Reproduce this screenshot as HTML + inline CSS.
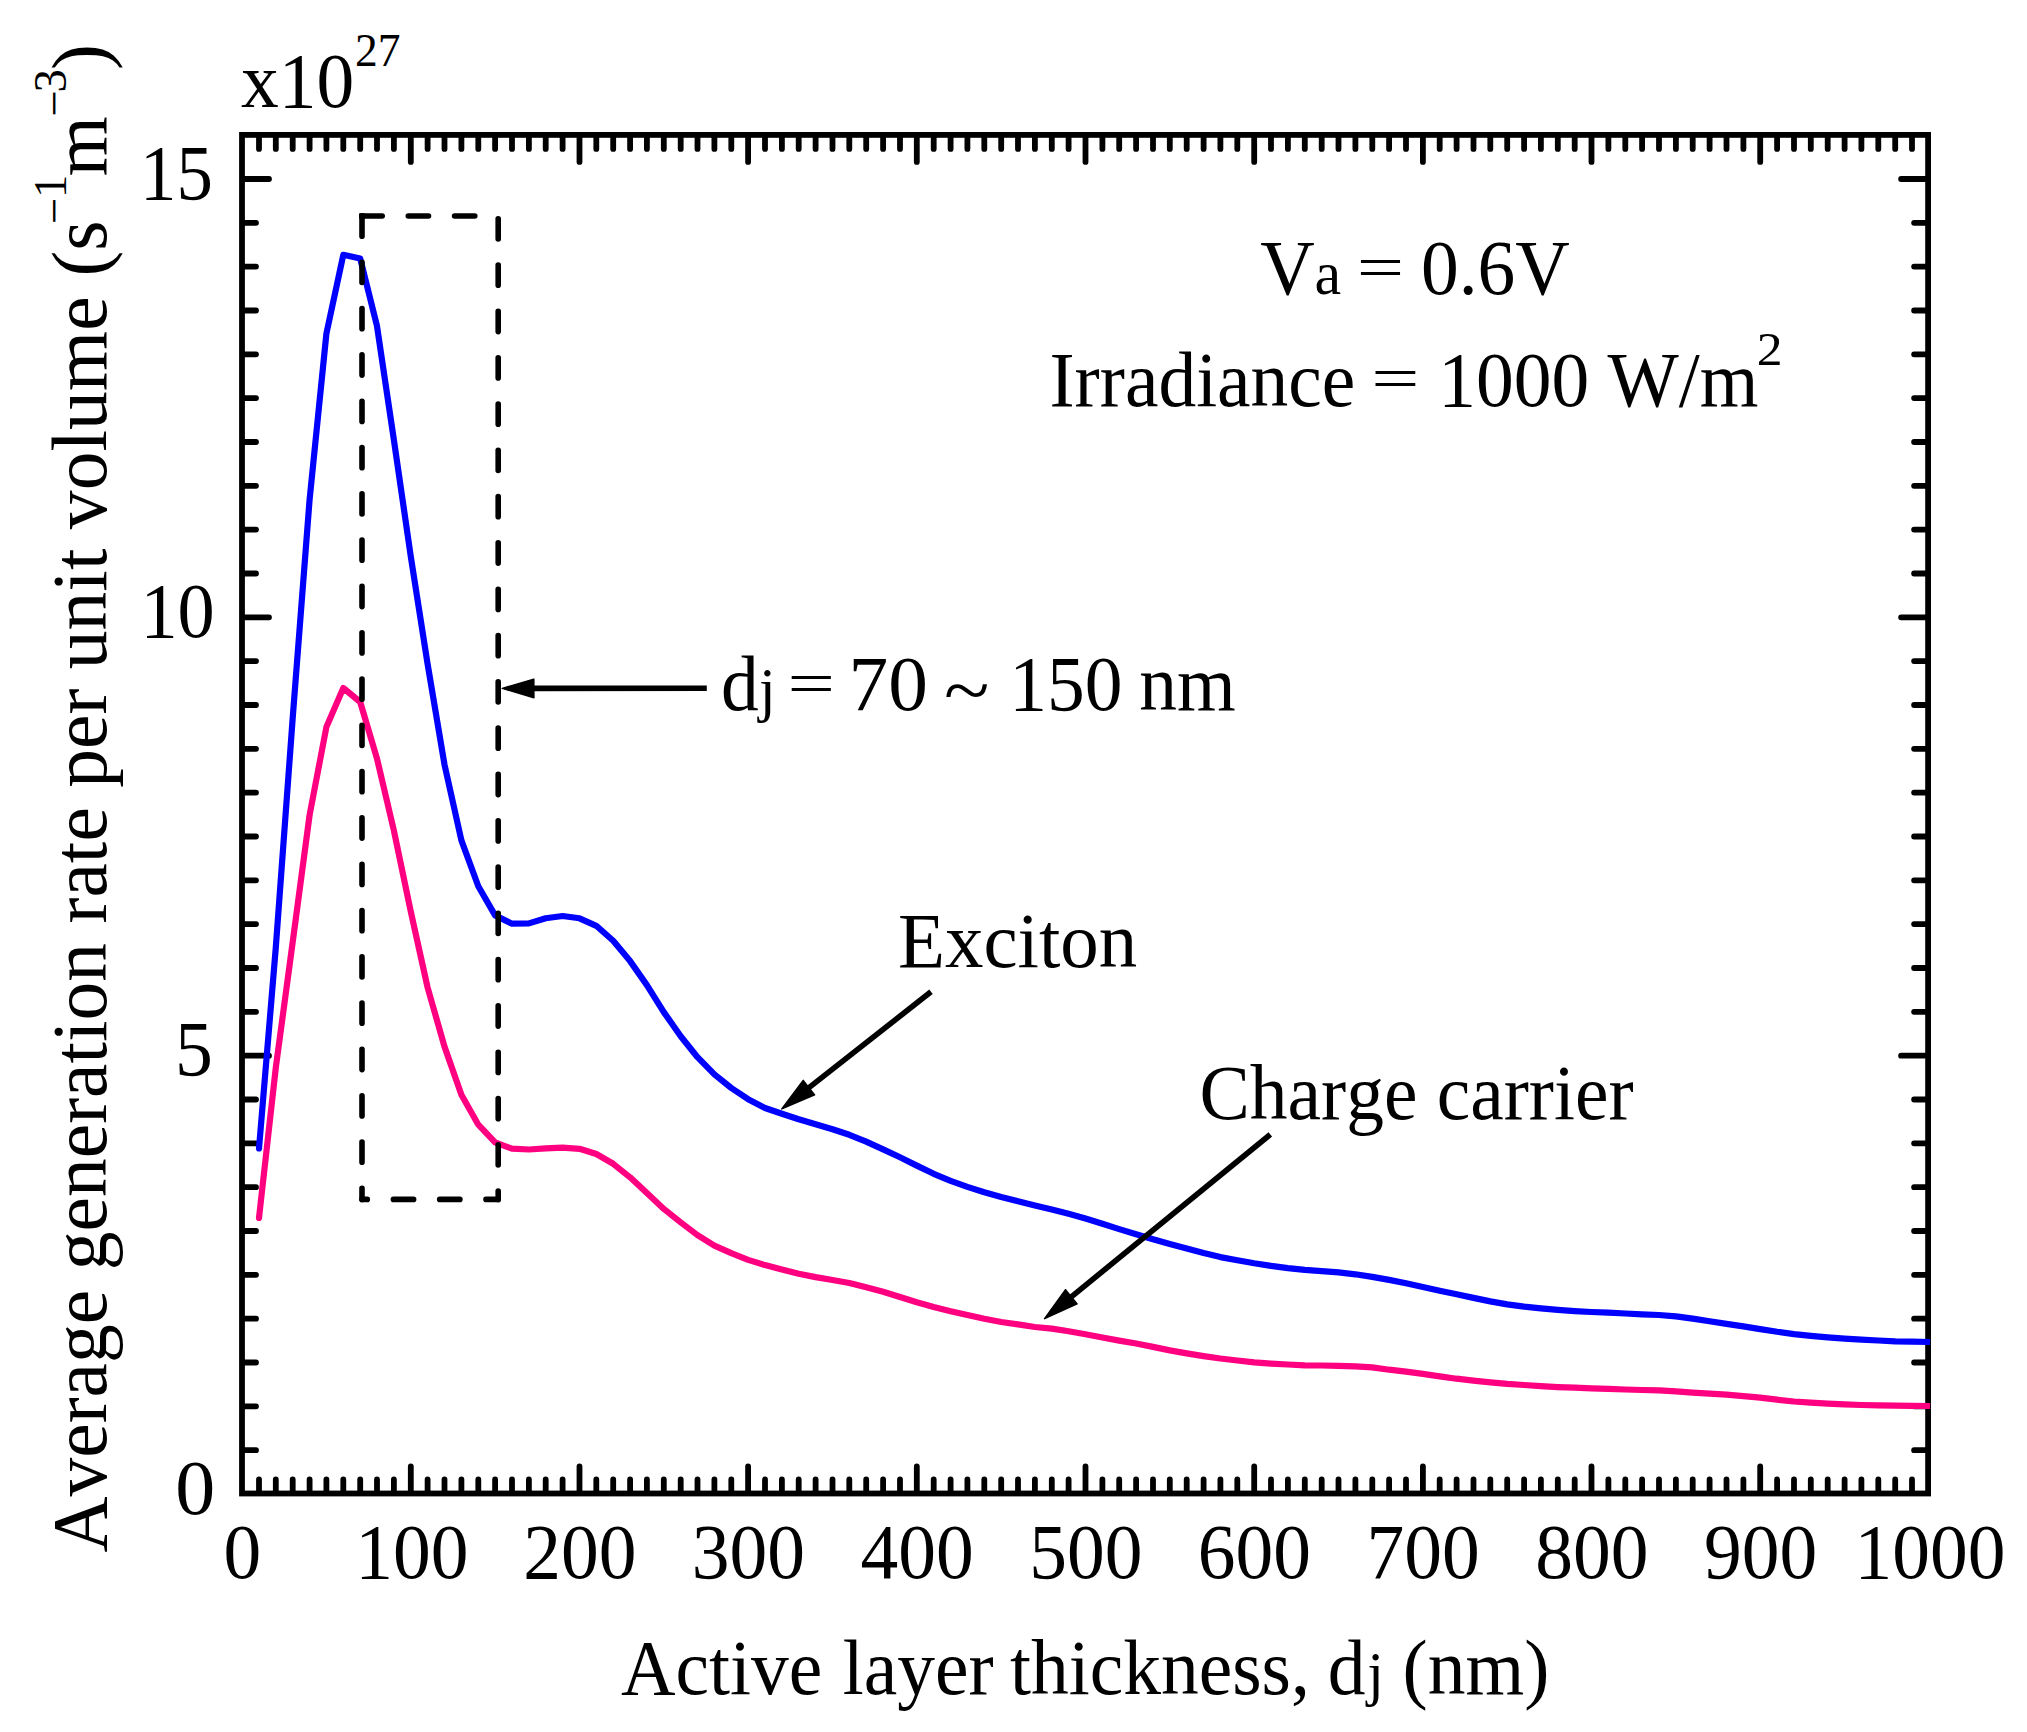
<!DOCTYPE html>
<html lang="en"><head><meta charset="utf-8"><title>Average generation rate vs active layer thickness</title>
<style>
html,body{margin:0;padding:0;background:#fff;}
body{width:2027px;height:1732px;overflow:hidden;}
svg{display:block;}
text{font-family:"Liberation Serif","Times New Roman",Times,serif;font-size:78px;fill:#000;font-kerning:none;}
.sup{font-size:47px;}
.sub{font-size:62px;}
</style></head><body>
<svg width="2027" height="1732" viewBox="0 0 2027 1732">
<rect x="0" y="0" width="2027" height="1732" fill="#fff"/>
<g id="axes" stroke="#000" stroke-width="5.8" fill="none" stroke-linecap="round">
<rect x="242.0" y="134.9" width="1686.1" height="1358.6" stroke-linejoin="miter"/>
<path d="M259.0,135.9v13.0M259.0,1492.5v-13.0M275.8,135.9v13.0M275.8,1492.5v-13.0M292.7,135.9v13.0M292.7,1492.5v-13.0M309.6,135.9v13.0M309.6,1492.5v-13.0M326.4,135.9v13.0M326.4,1492.5v-13.0M343.3,135.9v13.0M343.3,1492.5v-13.0M360.2,135.9v13.0M360.2,1492.5v-13.0M377.0,135.9v13.0M377.0,1492.5v-13.0M393.9,135.9v13.0M393.9,1492.5v-13.0M410.8,135.9v26.0M410.8,1492.5v-26.0M427.6,135.9v13.0M427.6,1492.5v-13.0M444.5,135.9v13.0M444.5,1492.5v-13.0M461.4,135.9v13.0M461.4,1492.5v-13.0M478.3,135.9v13.0M478.3,1492.5v-13.0M495.1,135.9v13.0M495.1,1492.5v-13.0M512.0,135.9v13.0M512.0,1492.5v-13.0M528.9,135.9v13.0M528.9,1492.5v-13.0M545.7,135.9v13.0M545.7,1492.5v-13.0M562.6,135.9v13.0M562.6,1492.5v-13.0M579.5,135.9v26.0M579.5,1492.5v-26.0M596.3,135.9v13.0M596.3,1492.5v-13.0M613.2,135.9v13.0M613.2,1492.5v-13.0M630.1,135.9v13.0M630.1,1492.5v-13.0M646.9,135.9v13.0M646.9,1492.5v-13.0M663.8,135.9v13.0M663.8,1492.5v-13.0M680.7,135.9v13.0M680.7,1492.5v-13.0M697.5,135.9v13.0M697.5,1492.5v-13.0M714.4,135.9v13.0M714.4,1492.5v-13.0M731.3,135.9v13.0M731.3,1492.5v-13.0M748.1,135.9v26.0M748.1,1492.5v-26.0M765.0,135.9v13.0M765.0,1492.5v-13.0M781.9,135.9v13.0M781.9,1492.5v-13.0M798.7,135.9v13.0M798.7,1492.5v-13.0M815.6,135.9v13.0M815.6,1492.5v-13.0M832.5,135.9v13.0M832.5,1492.5v-13.0M849.3,135.9v13.0M849.3,1492.5v-13.0M866.2,135.9v13.0M866.2,1492.5v-13.0M883.1,135.9v13.0M883.1,1492.5v-13.0M900.0,135.9v13.0M900.0,1492.5v-13.0M916.8,135.9v26.0M916.8,1492.5v-26.0M933.7,135.9v13.0M933.7,1492.5v-13.0M950.6,135.9v13.0M950.6,1492.5v-13.0M967.4,135.9v13.0M967.4,1492.5v-13.0M984.3,135.9v13.0M984.3,1492.5v-13.0M1001.2,135.9v13.0M1001.2,1492.5v-13.0M1018.0,135.9v13.0M1018.0,1492.5v-13.0M1034.9,135.9v13.0M1034.9,1492.5v-13.0M1051.8,135.9v13.0M1051.8,1492.5v-13.0M1068.6,135.9v13.0M1068.6,1492.5v-13.0M1085.5,135.9v26.0M1085.5,1492.5v-26.0M1102.4,135.9v13.0M1102.4,1492.5v-13.0M1119.2,135.9v13.0M1119.2,1492.5v-13.0M1136.1,135.9v13.0M1136.1,1492.5v-13.0M1153.0,135.9v13.0M1153.0,1492.5v-13.0M1169.8,135.9v13.0M1169.8,1492.5v-13.0M1186.7,135.9v13.0M1186.7,1492.5v-13.0M1203.6,135.9v13.0M1203.6,1492.5v-13.0M1220.4,135.9v13.0M1220.4,1492.5v-13.0M1237.3,135.9v13.0M1237.3,1492.5v-13.0M1254.2,135.9v26.0M1254.2,1492.5v-26.0M1271.0,135.9v13.0M1271.0,1492.5v-13.0M1287.9,135.9v13.0M1287.9,1492.5v-13.0M1304.8,135.9v13.0M1304.8,1492.5v-13.0M1321.7,135.9v13.0M1321.7,1492.5v-13.0M1338.5,135.9v13.0M1338.5,1492.5v-13.0M1355.4,135.9v13.0M1355.4,1492.5v-13.0M1372.3,135.9v13.0M1372.3,1492.5v-13.0M1389.1,135.9v13.0M1389.1,1492.5v-13.0M1406.0,135.9v13.0M1406.0,1492.5v-13.0M1422.9,135.9v26.0M1422.9,1492.5v-26.0M1439.7,135.9v13.0M1439.7,1492.5v-13.0M1456.6,135.9v13.0M1456.6,1492.5v-13.0M1473.5,135.9v13.0M1473.5,1492.5v-13.0M1490.3,135.9v13.0M1490.3,1492.5v-13.0M1507.2,135.9v13.0M1507.2,1492.5v-13.0M1524.1,135.9v13.0M1524.1,1492.5v-13.0M1540.9,135.9v13.0M1540.9,1492.5v-13.0M1557.8,135.9v13.0M1557.8,1492.5v-13.0M1574.7,135.9v13.0M1574.7,1492.5v-13.0M1591.5,135.9v26.0M1591.5,1492.5v-26.0M1608.4,135.9v13.0M1608.4,1492.5v-13.0M1625.3,135.9v13.0M1625.3,1492.5v-13.0M1642.1,135.9v13.0M1642.1,1492.5v-13.0M1659.0,135.9v13.0M1659.0,1492.5v-13.0M1675.9,135.9v13.0M1675.9,1492.5v-13.0M1692.7,135.9v13.0M1692.7,1492.5v-13.0M1709.6,135.9v13.0M1709.6,1492.5v-13.0M1726.5,135.9v13.0M1726.5,1492.5v-13.0M1743.4,135.9v13.0M1743.4,1492.5v-13.0M1760.2,135.9v26.0M1760.2,1492.5v-26.0M1777.1,135.9v13.0M1777.1,1492.5v-13.0M1794.0,135.9v13.0M1794.0,1492.5v-13.0M1810.8,135.9v13.0M1810.8,1492.5v-13.0M1827.7,135.9v13.0M1827.7,1492.5v-13.0M1844.6,135.9v13.0M1844.6,1492.5v-13.0M1861.4,135.9v13.0M1861.4,1492.5v-13.0M1878.3,135.9v13.0M1878.3,1492.5v-13.0M1895.2,135.9v13.0M1895.2,1492.5v-13.0M1912.0,135.9v13.0M1912.0,1492.5v-13.0"/>
<path d="M243.0,1450.2h13.0M1927.1,1450.2h-13.0M243.0,1406.3h13.0M1927.1,1406.3h-13.0M243.0,1362.5h13.0M1927.1,1362.5h-13.0M243.0,1318.7h13.0M1927.1,1318.7h-13.0M243.0,1274.8h13.0M1927.1,1274.8h-13.0M243.0,1231.0h13.0M1927.1,1231.0h-13.0M243.0,1187.2h13.0M1927.1,1187.2h-13.0M243.0,1143.3h13.0M1927.1,1143.3h-13.0M243.0,1099.5h13.0M1927.1,1099.5h-13.0M243.0,1055.7h26.0M1927.1,1055.7h-26.0M243.0,1011.8h13.0M1927.1,1011.8h-13.0M243.0,968.0h13.0M1927.1,968.0h-13.0M243.0,924.1h13.0M1927.1,924.1h-13.0M243.0,880.3h13.0M1927.1,880.3h-13.0M243.0,836.5h13.0M1927.1,836.5h-13.0M243.0,792.6h13.0M1927.1,792.6h-13.0M243.0,748.8h13.0M1927.1,748.8h-13.0M243.0,705.0h13.0M1927.1,705.0h-13.0M243.0,661.1h13.0M1927.1,661.1h-13.0M243.0,617.3h26.0M1927.1,617.3h-26.0M243.0,573.5h13.0M1927.1,573.5h-13.0M243.0,529.6h13.0M1927.1,529.6h-13.0M243.0,485.8h13.0M1927.1,485.8h-13.0M243.0,442.0h13.0M1927.1,442.0h-13.0M243.0,398.1h13.0M1927.1,398.1h-13.0M243.0,354.3h13.0M1927.1,354.3h-13.0M243.0,310.5h13.0M1927.1,310.5h-13.0M243.0,266.6h13.0M1927.1,266.6h-13.0M243.0,222.8h13.0M1927.1,222.8h-13.0M243.0,179.0h26.0M1927.1,179.0h-26.0"/>
</g>
<polyline id="exciton" points="259.0,1148.5 275.8,947.5 292.7,718.0 309.6,499.5 326.4,333.6 343.3,254.8 360.2,258.5 377.0,326.1 393.9,440.0 410.8,556.6 427.6,664.0 444.5,764.6 461.4,840.4 478.3,886.2 495.1,915.4 512.0,923.7 528.9,923.4 545.7,918.3 562.6,916.0 579.5,918.3 596.3,925.8 613.2,940.8 630.1,961.1 646.9,985.1 663.8,1012.1 680.7,1036.2 697.5,1057.2 714.4,1074.4 731.3,1088.0 748.1,1099.2 765.0,1108.0 781.9,1113.8 798.7,1119.3 815.6,1124.3 832.5,1129.2 849.3,1134.8 866.2,1141.6 883.1,1149.4 900.0,1157.3 916.8,1165.6 933.7,1173.8 950.6,1180.9 967.4,1186.9 984.3,1192.3 1001.2,1197.1 1018.0,1201.3 1034.9,1205.5 1051.8,1209.4 1068.6,1213.8 1085.5,1218.6 1102.4,1223.8 1119.2,1229.1 1136.1,1234.3 1153.0,1239.3 1169.8,1244.1 1186.7,1248.6 1203.6,1253.1 1220.4,1257.1 1237.3,1260.3 1254.2,1263.3 1271.0,1265.9 1287.9,1268.1 1304.8,1269.9 1321.7,1271.2 1338.5,1272.4 1355.4,1274.3 1372.3,1276.9 1389.1,1279.9 1406.0,1283.3 1422.9,1287.1 1439.7,1290.8 1456.6,1294.3 1473.5,1297.9 1490.3,1301.4 1507.2,1304.4 1524.1,1306.6 1540.9,1308.4 1557.8,1309.9 1574.7,1311.1 1591.5,1312.0 1608.4,1312.6 1625.3,1313.5 1642.1,1314.4 1659.0,1315.0 1675.9,1316.4 1692.7,1318.6 1709.6,1321.3 1726.5,1323.9 1743.4,1326.4 1760.2,1329.1 1777.1,1331.8 1794.0,1334.1 1810.8,1335.9 1827.7,1337.4 1844.6,1338.6 1861.4,1339.6 1878.3,1340.5 1895.2,1341.3 1912.0,1341.7 1930.1,1342.0" fill="none" stroke="#0000ff" stroke-width="6.2" stroke-linejoin="round" stroke-linecap="butt"/>
<polyline id="carrier" points="259.0,1218.0 275.8,1067.6 292.7,942.0 309.6,815.0 326.4,727.0 343.3,688.0 360.2,702.0 377.0,758.6 393.9,830.6 410.8,911.7 427.6,987.5 444.5,1046.6 461.4,1094.7 478.3,1124.7 495.1,1142.4 512.0,1148.7 528.9,1149.5 545.7,1148.3 562.6,1147.7 579.5,1148.8 596.3,1154.0 613.2,1163.8 630.1,1177.3 646.9,1193.1 663.8,1208.9 680.7,1222.4 697.5,1235.1 714.4,1245.6 731.3,1253.2 748.1,1259.9 765.0,1265.1 781.9,1269.5 798.7,1273.7 815.6,1277.1 832.5,1280.0 849.3,1283.0 866.2,1287.2 883.1,1291.7 900.0,1297.0 916.8,1302.2 933.7,1307.0 950.6,1311.2 967.4,1315.0 984.3,1318.7 1001.2,1322.0 1018.0,1324.4 1034.9,1327.0 1051.8,1328.6 1068.6,1331.2 1085.5,1334.2 1102.4,1337.5 1119.2,1340.6 1136.1,1343.5 1153.0,1346.9 1169.8,1350.4 1186.7,1353.4 1203.6,1356.1 1220.4,1358.5 1237.3,1360.5 1254.2,1362.4 1271.0,1363.6 1287.9,1364.5 1304.8,1365.3 1321.7,1365.5 1338.5,1365.8 1355.4,1366.4 1372.3,1367.4 1389.1,1369.7 1406.0,1371.6 1422.9,1373.9 1439.7,1376.4 1456.6,1378.7 1473.5,1380.6 1490.3,1382.4 1507.2,1383.9 1524.1,1385.0 1540.9,1386.2 1557.8,1387.1 1574.7,1387.7 1591.5,1388.4 1608.4,1388.9 1625.3,1389.5 1642.1,1390.0 1659.0,1390.4 1675.9,1391.4 1692.7,1392.6 1709.6,1393.7 1726.5,1394.7 1743.4,1396.1 1760.2,1397.7 1777.1,1399.7 1794.0,1401.5 1810.8,1402.7 1827.7,1403.6 1844.6,1404.4 1861.4,1405.0 1878.3,1405.4 1895.2,1405.7 1912.0,1405.9 1930.1,1406.0" fill="none" stroke="#ff0080" stroke-width="6.2" stroke-linejoin="round" stroke-linecap="butt"/>
<circle cx="259.0" cy="1148.5" r="3.1" fill="#0000ff"/>
<circle cx="259.0" cy="1218.0" r="3.1" fill="#ff0080"/>
<g id="dashbox" stroke="#000" stroke-width="5.6" fill="none" stroke-linecap="round" stroke-dasharray="20.2 26.1">
<path d="M362,216V1199.4"/>
<path d="M362,216H498.2"/>
<path d="M498.2,218.8V1199.4"/>
<path d="M498.2,1199.4H362" stroke-dashoffset="8"/>
</g>
<rect x="359.2" y="213.2" width="5.6" height="5.6" fill="#000"/>
<g id="arrows">
<line x1="706.8" y1="688.3" x2="531.8" y2="688.4" stroke="#000" stroke-width="5.6" stroke-linecap="butt"/><polygon points="502.3,688.4 533.8,679.1 533.9,697.7" fill="#000" stroke="#000" stroke-width="1.5" stroke-linejoin="round"/>
<line x1="931.0" y1="991.8" x2="807.4" y2="1088.9" stroke="#000" stroke-width="5.6" stroke-linecap="butt"/><polygon points="781.8,1108.9 803.2,1080.4 814.6,1094.9" fill="#000" stroke="#000" stroke-width="1.5" stroke-linejoin="round"/>
<line x1="1270.3" y1="1134.4" x2="1069.8" y2="1298.1" stroke="#000" stroke-width="5.6" stroke-linecap="butt"/><polygon points="1044.6,1318.6 1065.5,1289.7 1077.1,1303.9" fill="#000" stroke="#000" stroke-width="1.5" stroke-linejoin="round"/>
</g>
<g id="labels">
<text transform="scale(0.9680,1)"><tspan x="249.00" y="107.00">x10</tspan><tspan x="366.74" y="65.60" class="sup">27</tspan></text>
<text transform="scale(0.9325,1)" x="150.25" y="198.55">15</text>
<text transform="scale(0.9520,1)" x="147.56" y="636.90">10</text>
<text transform="scale(0.9707,1)" x="180.28" y="1075.25">5</text>
<text transform="scale(1.0255,1)" x="171.00" y="1513.60">0</text>
<text transform="scale(0.9680,1)" x="250.41" y="1578.40" text-anchor="middle">0</text>
<text transform="scale(0.9680,1)" x="425.60" y="1578.40" text-anchor="middle">100</text>
<text transform="scale(0.9680,1)" x="598.93" y="1578.40" text-anchor="middle">200</text>
<text transform="scale(0.9680,1)" x="773.18" y="1578.40" text-anchor="middle">300</text>
<text transform="scale(0.9680,1)" x="947.44" y="1578.40" text-anchor="middle">400</text>
<text transform="scale(0.9680,1)" x="1121.69" y="1578.40" text-anchor="middle">500</text>
<text transform="scale(0.9680,1)" x="1295.95" y="1578.40" text-anchor="middle">600</text>
<text transform="scale(0.9680,1)" x="1470.21" y="1578.40" text-anchor="middle">700</text>
<text transform="scale(0.9680,1)" x="1644.46" y="1578.40" text-anchor="middle">800</text>
<text transform="scale(0.9680,1)" x="1818.72" y="1578.40" text-anchor="middle">900</text>
<text transform="scale(0.9680,1)" x="1993.90" y="1578.40" text-anchor="middle">1000</text>
<text transform="scale(0.9680,1)"><tspan x="641.49" y="1694.40">Active </tspan><tspan x="870.55" y="1694.40">layer </tspan><tspan x="1043.35" y="1694.40">thickness, </tspan><tspan x="1371.77" y="1694.40">d</tspan><tspan x="1412.32" y="1694.40" class="sub">j </tspan><tspan x="1448.95" y="1694.40">(nm)</tspan></text>
<text transform="translate(106.0,1551.0) rotate(-90) scale(0.9950,1)"><tspan x="-1.57" y="0.00">Average generation rate per unit volume </tspan><tspan x="1280.89" y="0.00">(s</tspan><tspan x="1333.74" y="-35.70" class="sup">−</tspan><tspan x="1359.89" y="-40.50" class="sup">1</tspan><tspan x="1381.38" y="0.00">m</tspan><tspan x="1441.68" y="-35.70" class="sup">−</tspan><tspan x="1465.89" y="-40.50" class="sup">3</tspan><tspan x="1488.54" y="0.00">)</tspan></text>
<g id="note-va">
<text transform="scale(0.9680,1)"><tspan x="1301.81" y="294.20">V</tspan><tspan x="1358.05" y="294.20" class="sub">a</tspan></text>
<text transform="translate(0,267.40) scale(1.0773,0.7800) translate(0,-268.30)" x="1259.51" y="294.20">=</text>
<text transform="scale(0.9680,1)"><tspan x="1467.90" y="294.20">0.6V</tspan></text>
</g>
<g id="note-irradiance">
<text transform="scale(0.9680,1)"><tspan x="1084.17" y="405.70">Irradiance</tspan></text>
<text transform="translate(0,378.90) scale(1.0965,0.7800) translate(0,-379.80)" x="1250.51" y="405.70">=</text>
<text transform="scale(0.9680,1)"><tspan x="1485.91" y="405.70">1000 </tspan><tspan x="1660.67" y="405.70">W/m</tspan></text>
<text transform="scale(1.0986,1)" x="1599.17" y="364.70" class="sup">2</text>
</g>
<g id="note-range">
<text transform="scale(0.9680,1)"><tspan x="744.81" y="710.20">d</tspan><tspan x="784.02" y="710.20" class="sub">j</tspan></text>
<text transform="translate(0,683.40) scale(1.0800,0.7800) translate(0,-684.30)" x="729.26" y="710.20">=</text>
<text transform="scale(1.0173,1)" x="834.20" y="710.20">70</text>
<text transform="translate(0,689.90) scale(1.0773,0.9600) translate(0,-684.53)" x="876.36" y="710.20">~</text>
<text transform="scale(0.9680,1)"><tspan x="1042.73" y="710.20">150 </tspan><tspan x="1176.83" y="710.20">nm</tspan></text>
</g>
<text transform="scale(0.9863,1)" x="910.47" y="966.70">Exciton</text>
<text transform="scale(0.9680,1)"><tspan x="1239.05" y="1119.00">Charge </tspan><tspan x="1484.22" y="1119.00">carrier</tspan></text>
</g>
</svg>
</body></html>
